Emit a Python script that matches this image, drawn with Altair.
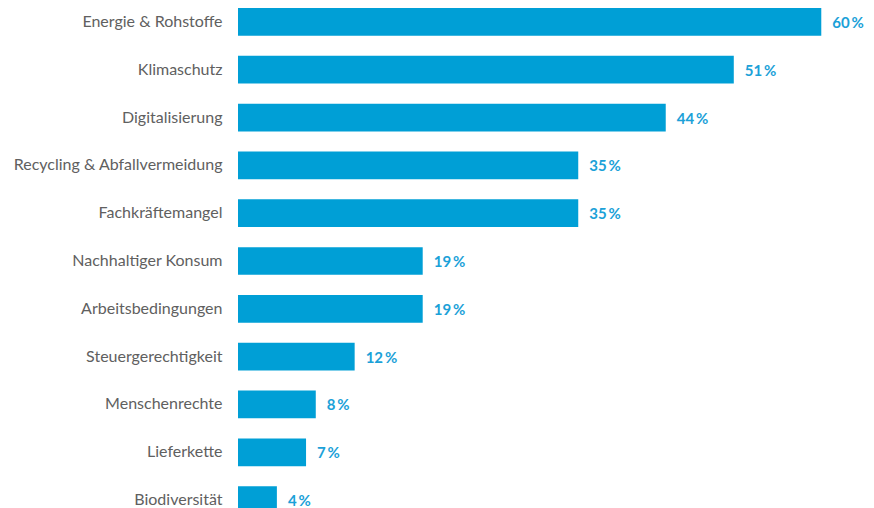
import altair as alt
import pandas as pd

categories = ["Energie & Rohstoffe", "Klimaschutz", "Digitalisierung",
              "Recycling & Abfallvermeidung", "Fachkräftemangel",
              "Nachhaltiger Konsum", "Arbeitsbedingungen", "Steuergerechtigkeit",
              "Menschenrechte", "Lieferkette", "Biodiversität"]
values = [60, 51, 44, 35, 35, 19, 19, 12, 8, 7, 4]
labels = [f"{v}\u2009%" for v in values]

df = pd.DataFrame({"cat": categories, "val": values, "lab": labels})

y = alt.Y("cat:N", sort=categories, title=None,
          scale=alt.Scale(paddingInner=0.42, paddingOuter=0),
          axis=alt.Axis(domain=False, ticks=False, grid=False, labelPadding=16,
                        labelFontSize=16, labelColor="#606060", labelFont="Lato",
                        labelLimit=400))
x = alt.X("val:Q", title=None, axis=None, scale=alt.Scale(domain=[0, 64.6], nice=False))

bars = alt.Chart(df).mark_bar(color="#009fd6").encode(x=x, y=y)
text = alt.Chart(df).mark_text(align="left", baseline="middle", dx=11, dy=1,
                               fontSize=15, fontWeight="bold", font="Lato",
                               color="#1ba1d8").encode(x=x, y=y, text="lab:N")

chart = (bars + text).properties(
    width=628, height=506,
    autosize=alt.AutoSizeParams(type="none"),
    padding={"left": 230, "top": 0, "right": 0, "bottom": 0},
).configure_view(stroke=None)

chart.save("out.html", embed_options={"renderer": "svg", "actions": False})
